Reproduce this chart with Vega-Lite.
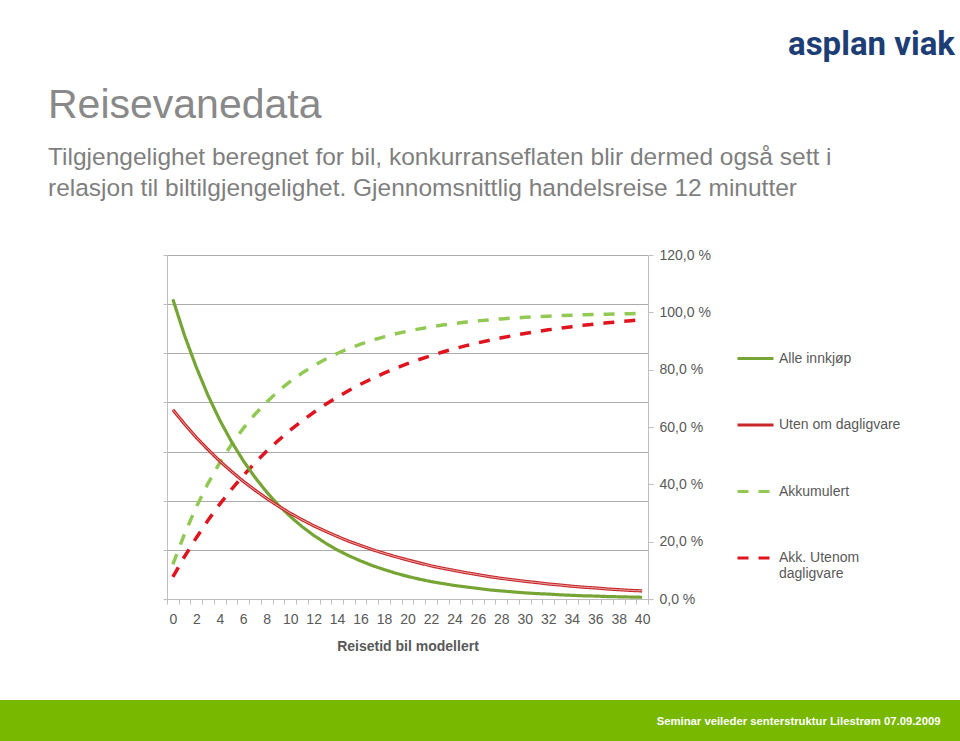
{
  "$schema": "https://vega.github.io/schema/vega-lite/v6.json",
  "width": 481,
  "height": 344,
  "autosize": {"type": "none"},
  "padding": {"left": 167, "top": 255, "right": 312, "bottom": 142},
  "background": "white",
  "title": {
    "text": "Reisevanedata",
    "subtitle": ["Tilgjengelighet beregnet for bil, konkurranseflaten blir dermed også sett i", "relasjon til biltilgjengelighet. Gjennomsnittlig handelsreise 12 minutter"],
    "anchor": "start",
    "frame": "group",
    "dx": -119,
    "dy": 173,
    "offset": 0,
    "font": "Liberation Sans",
    "fontSize": 41,
    "fontWeight": "normal",
    "color": "#898989",
    "subtitleFont": "Liberation Sans",
    "subtitleFontSize": 24.5,
    "subtitleColor": "#7f7f7f",
    "subtitleLineHeight": 31,
    "subtitlePadding": 19
  },
  "data": {"values": [
    {"t":0,"s":"Alle innkjøp","v":12.2},{"t":1,"s":"Alle innkjøp","v":10.72},{"t":2,"s":"Alle innkjøp","v":9.43},{"t":3,"s":"Alle innkjøp","v":8.28},{"t":4,"s":"Alle innkjøp","v":7.28},{"t":5,"s":"Alle innkjøp","v":6.40},{"t":6,"s":"Alle innkjøp","v":5.63},{"t":7,"s":"Alle innkjøp","v":4.95},{"t":8,"s":"Alle innkjøp","v":4.35},{"t":9,"s":"Alle innkjøp","v":3.82},{"t":10,"s":"Alle innkjøp","v":3.36},{"t":11,"s":"Alle innkjøp","v":2.95},{"t":12,"s":"Alle innkjøp","v":2.59},{"t":13,"s":"Alle innkjøp","v":2.28},{"t":14,"s":"Alle innkjøp","v":2.00},{"t":15,"s":"Alle innkjøp","v":1.76},{"t":16,"s":"Alle innkjøp","v":1.55},{"t":17,"s":"Alle innkjøp","v":1.36},{"t":18,"s":"Alle innkjøp","v":1.20},{"t":19,"s":"Alle innkjøp","v":1.05},{"t":20,"s":"Alle innkjøp","v":0.92},{"t":21,"s":"Alle innkjøp","v":0.81},{"t":22,"s":"Alle innkjøp","v":0.71},{"t":23,"s":"Alle innkjøp","v":0.63},{"t":24,"s":"Alle innkjøp","v":0.55},{"t":25,"s":"Alle innkjøp","v":0.49},{"t":26,"s":"Alle innkjøp","v":0.43},{"t":27,"s":"Alle innkjøp","v":0.37},{"t":28,"s":"Alle innkjøp","v":0.33},{"t":29,"s":"Alle innkjøp","v":0.29},{"t":30,"s":"Alle innkjøp","v":0.25},{"t":31,"s":"Alle innkjøp","v":0.22},{"t":32,"s":"Alle innkjøp","v":0.20},{"t":33,"s":"Alle innkjøp","v":0.17},{"t":34,"s":"Alle innkjøp","v":0.15},{"t":35,"s":"Alle innkjøp","v":0.13},{"t":36,"s":"Alle innkjøp","v":0.12},{"t":37,"s":"Alle innkjøp","v":0.10},{"t":38,"s":"Alle innkjøp","v":0.09},{"t":39,"s":"Alle innkjøp","v":0.08},{"t":40,"s":"Alle innkjøp","v":0.07},
    {"t":0,"s":"Uten om dagligvare","v":7.70},{"t":1,"s":"Uten om dagligvare","v":7.12},{"t":2,"s":"Uten om dagligvare","v":6.57},{"t":3,"s":"Uten om dagligvare","v":6.08},{"t":4,"s":"Uten om dagligvare","v":5.61},{"t":5,"s":"Uten om dagligvare","v":5.19},{"t":6,"s":"Uten om dagligvare","v":4.79},{"t":7,"s":"Uten om dagligvare","v":4.43},{"t":8,"s":"Uten om dagligvare","v":4.09},{"t":9,"s":"Uten om dagligvare","v":3.78},{"t":10,"s":"Uten om dagligvare","v":3.49},{"t":11,"s":"Uten om dagligvare","v":3.23},{"t":12,"s":"Uten om dagligvare","v":2.98},{"t":13,"s":"Uten om dagligvare","v":2.76},{"t":14,"s":"Uten om dagligvare","v":2.55},{"t":15,"s":"Uten om dagligvare","v":2.35},{"t":16,"s":"Uten om dagligvare","v":2.18},{"t":17,"s":"Uten om dagligvare","v":2.01},{"t":18,"s":"Uten om dagligvare","v":1.86},{"t":19,"s":"Uten om dagligvare","v":1.72},{"t":20,"s":"Uten om dagligvare","v":1.59},{"t":21,"s":"Uten om dagligvare","v":1.47},{"t":22,"s":"Uten om dagligvare","v":1.35},{"t":23,"s":"Uten om dagligvare","v":1.25},{"t":24,"s":"Uten om dagligvare","v":1.16},{"t":25,"s":"Uten om dagligvare","v":1.07},{"t":26,"s":"Uten om dagligvare","v":0.99},{"t":27,"s":"Uten om dagligvare","v":0.91},{"t":28,"s":"Uten om dagligvare","v":0.84},{"t":29,"s":"Uten om dagligvare","v":0.78},{"t":30,"s":"Uten om dagligvare","v":0.72},{"t":31,"s":"Uten om dagligvare","v":0.67},{"t":32,"s":"Uten om dagligvare","v":0.61},{"t":33,"s":"Uten om dagligvare","v":0.57},{"t":34,"s":"Uten om dagligvare","v":0.52},{"t":35,"s":"Uten om dagligvare","v":0.48},{"t":36,"s":"Uten om dagligvare","v":0.45},{"t":37,"s":"Uten om dagligvare","v":0.41},{"t":38,"s":"Uten om dagligvare","v":0.38},{"t":39,"s":"Uten om dagligvare","v":0.35},{"t":40,"s":"Uten om dagligvare","v":0.33},
    {"t":0,"s":"Akkumulert","v":12.11},{"t":1,"s":"Akkumulert","v":22.76},{"t":2,"s":"Akkumulert","v":32.12},{"t":3,"s":"Akkumulert","v":40.35},{"t":4,"s":"Akkumulert","v":47.58},{"t":5,"s":"Akkumulert","v":53.94},{"t":6,"s":"Akkumulert","v":59.52},{"t":7,"s":"Akkumulert","v":64.44},{"t":8,"s":"Akkumulert","v":68.75},{"t":9,"s":"Akkumulert","v":72.54},{"t":10,"s":"Akkumulert","v":75.87},{"t":11,"s":"Akkumulert","v":78.80},{"t":12,"s":"Akkumulert","v":81.38},{"t":13,"s":"Akkumulert","v":83.65},{"t":14,"s":"Akkumulert","v":85.64},{"t":15,"s":"Akkumulert","v":87.38},{"t":16,"s":"Akkumulert","v":88.92},{"t":17,"s":"Akkumulert","v":90.27},{"t":18,"s":"Akkumulert","v":91.46},{"t":19,"s":"Akkumulert","v":92.51},{"t":20,"s":"Akkumulert","v":93.42},{"t":21,"s":"Akkumulert","v":94.23},{"t":22,"s":"Akkumulert","v":94.94},{"t":23,"s":"Akkumulert","v":95.57},{"t":24,"s":"Akkumulert","v":96.11},{"t":25,"s":"Akkumulert","v":96.59},{"t":26,"s":"Akkumulert","v":97.02},{"t":27,"s":"Akkumulert","v":97.38},{"t":28,"s":"Akkumulert","v":97.71},{"t":29,"s":"Akkumulert","v":98.00},{"t":30,"s":"Akkumulert","v":98.26},{"t":31,"s":"Akkumulert","v":98.47},{"t":32,"s":"Akkumulert","v":98.67},{"t":33,"s":"Akkumulert","v":98.84},{"t":34,"s":"Akkumulert","v":98.99},{"t":35,"s":"Akkumulert","v":99.13},{"t":36,"s":"Akkumulert","v":99.24},{"t":37,"s":"Akkumulert","v":99.35},{"t":38,"s":"Akkumulert","v":99.44},{"t":39,"s":"Akkumulert","v":99.52},{"t":40,"s":"Akkumulert","v":99.59},
    {"t":0,"s":"Akk. Utenom dagligvare","v":7.70},{"t":1,"s":"Akk. Utenom dagligvare","v":14.82},{"t":2,"s":"Akk. Utenom dagligvare","v":21.39},{"t":3,"s":"Akk. Utenom dagligvare","v":27.47},{"t":4,"s":"Akk. Utenom dagligvare","v":33.08},{"t":5,"s":"Akk. Utenom dagligvare","v":38.27},{"t":6,"s":"Akk. Utenom dagligvare","v":43.06},{"t":7,"s":"Akk. Utenom dagligvare","v":47.49},{"t":8,"s":"Akk. Utenom dagligvare","v":51.58},{"t":9,"s":"Akk. Utenom dagligvare","v":55.36},{"t":10,"s":"Akk. Utenom dagligvare","v":58.86},{"t":11,"s":"Akk. Utenom dagligvare","v":62.09},{"t":12,"s":"Akk. Utenom dagligvare","v":65.07},{"t":13,"s":"Akk. Utenom dagligvare","v":67.83},{"t":14,"s":"Akk. Utenom dagligvare","v":70.38},{"t":15,"s":"Akk. Utenom dagligvare","v":72.73},{"t":16,"s":"Akk. Utenom dagligvare","v":74.91},{"t":17,"s":"Akk. Utenom dagligvare","v":76.92},{"t":18,"s":"Akk. Utenom dagligvare","v":78.77},{"t":19,"s":"Akk. Utenom dagligvare","v":80.49},{"t":20,"s":"Akk. Utenom dagligvare","v":82.08},{"t":21,"s":"Akk. Utenom dagligvare","v":83.54},{"t":22,"s":"Akk. Utenom dagligvare","v":84.90},{"t":23,"s":"Akk. Utenom dagligvare","v":86.15},{"t":24,"s":"Akk. Utenom dagligvare","v":87.30},{"t":25,"s":"Akk. Utenom dagligvare","v":88.37},{"t":26,"s":"Akk. Utenom dagligvare","v":89.36},{"t":27,"s":"Akk. Utenom dagligvare","v":90.27},{"t":28,"s":"Akk. Utenom dagligvare","v":91.12},{"t":29,"s":"Akk. Utenom dagligvare","v":91.89},{"t":30,"s":"Akk. Utenom dagligvare","v":92.61},{"t":31,"s":"Akk. Utenom dagligvare","v":93.28},{"t":32,"s":"Akk. Utenom dagligvare","v":93.89},{"t":33,"s":"Akk. Utenom dagligvare","v":94.46},{"t":34,"s":"Akk. Utenom dagligvare","v":94.99},{"t":35,"s":"Akk. Utenom dagligvare","v":95.47},{"t":36,"s":"Akk. Utenom dagligvare","v":95.92},{"t":37,"s":"Akk. Utenom dagligvare","v":96.33},{"t":38,"s":"Akk. Utenom dagligvare","v":96.72},{"t":39,"s":"Akk. Utenom dagligvare","v":97.07},{"t":40,"s":"Akk. Utenom dagligvare","v":97.40}
  ]},
  "encoding": {
    "x": {
      "field": "t",
      "type": "ordinal",
      "bandPosition": 0.5,
      "scale": {"type": "band", "paddingInner": 0, "paddingOuter": 0},
      "axis": {
        "title": "Reisetid bil modellert",
        "tickBand": "extent",
        "labelAngle": 0,
        "labelOverlap": false,
        "labelExpr": "toNumber(datum.value) % 2 === 0 ? datum.label : ''",
        "labelPadding": 8,
        "titlePadding": 13,
        "titleFontWeight": "bold",
        "grid": false
      }
    }
  },
  "layer": [
    {
      "transform": [{"filter": {"field": "s", "oneOf": ["Akkumulert", "Akk. Utenom dagligvare"]}}],
      "mark": {"type": "line", "strokeWidth": 3.5, "strokeCap": "butt"},
      "encoding": {
        "y": {
          "field": "v", "type": "quantitative",
          "scale": {"domain": [0, 120], "nice": false},
          "axis": {
            "orient": "right",
            "values": [0, 20, 40, 60, 80, 100, 120],
            "grid": false,
            "title": "Seminar veileder senterstruktur Lilestrøm 07.09.2009",
            "titleAngle": 0,
            "titleX": 292,
            "titleY": 466,
            "titleAlign": "right",
            "titleBaseline": "middle",
            "titleFont": "Liberation Sans",
            "titleFontSize": 11.3,
            "titleFontWeight": "bold",
            "titleColor": "#ffffff",
            "labelExpr": "replace(format(datum.value, '.1f'), '.', ',') + ' %'",
            "labelPadding": 6,
            "zindex": 2
          }
        },
        "color": {
          "field": "s", "type": "nominal",
          "scale": {"domain": ["Alle innkjøp", "Uten om dagligvare", "Akkumulert", "Akk. Utenom dagligvare"], "range": ["#77a535", "#c8282a", "#92c955", "#e0141e"]},
          "legend": {
            "labelExpr": "datum.label == 'Akk. Utenom dagligvare' ? ['Akk. Utenom', 'dagligvare'] : datum.label"
          }
        },
        "strokeDash": {
          "field": "s", "type": "nominal",
          "scale": {"domain": ["Alle innkjøp", "Uten om dagligvare", "Akkumulert", "Akk. Utenom dagligvare"], "range": [[1, 0], [1, 0], [11, 10], [11, 10]]},
          "legend": {
            "labelExpr": "datum.label == 'Akk. Utenom dagligvare' ? ['Akk. Utenom', 'dagligvare'] : datum.label"
          }
        }
      }
    },
    {
      "layer": [
        {
          "transform": [{"filter": {"field": "s", "oneOf": ["Alle innkjøp", "Uten om dagligvare"]}}],
          "mark": {"type": "line", "strokeWidth": 3.2, "strokeCap": "butt"},
          "encoding": {
            "y": {
              "field": "v", "type": "quantitative",
              "scale": {"domain": [0, 14], "nice": false},
              "axis": {
                "orient": "left",
                "values": [0, 2, 4, 6, 8, 10, 12, 14],
                "labels": false,
                "grid": true,
                "tickSize": 4,
                "title": "asplan viak",
                "titleAngle": 0,
                "titleX": 704,
                "titleY": -201,
                "titleAlign": "center",
                "titleBaseline": "alphabetic",
                "titleFont": "Roboto",
                "titleFontSize": 33,
                "titleFontWeight": "bold",
                "titleColor": "#1d3e75"
              }
            },
            "color": {
              "field": "s", "type": "nominal",
              "scale": {"domain": ["Alle innkjøp", "Uten om dagligvare", "Akkumulert", "Akk. Utenom dagligvare"], "range": ["#77a535", "#c8282a", "#92c955", "#e0141e"]}
            },
            "strokeDash": {
              "field": "s", "type": "nominal",
              "scale": {"domain": ["Alle innkjøp", "Uten om dagligvare", "Akkumulert", "Akk. Utenom dagligvare"], "range": [[1, 0], [1, 0], [11, 10], [11, 10]]}
            }
          }
        },
        {
          "transform": [{"filter": {"field": "s", "equal": "Uten om dagligvare"}}],
          "mark": {"type": "line", "strokeWidth": 1, "stroke": "#eba3a3"},
          "encoding": {
            "y": {"field": "v", "type": "quantitative"}
          }
        },
        {
          "transform": [{"filter": {"field": "s", "equal": "Alle innkjøp"}}],
          "mark": {"type": "point", "filled": true, "size": 0, "opacity": 1, "strokeWidth": 0},
          "encoding": {
            "y": {"field": "v", "type": "quantitative"},
            "fill": {
              "field": "v", "type": "quantitative",
              "scale": {"range": ["#78b800", "#78b800"]},
              "legend": {
                "orient": "none",
                "legendX": -167,
                "legendY": 445,
                "direction": "horizontal",
                "gradientLength": 960,
                "gradientThickness": 41,
                "gradientStrokeWidth": 0,
                "title": null,
                "labelExpr": "''",
                "padding": 0,
                "zindex": 0
              }
            }
          }
        }
      ]
    }
  ],
  "resolve": {"scale": {"y": "independent"}},
  "config": {
    "view": {"stroke": null},
    "font": "Liberation Sans",
    "axis": {
      "labelFont": "Liberation Sans",
      "labelFontSize": 14,
      "labelColor": "#595959",
      "titleFont": "Liberation Sans",
      "titleFontSize": 14,
      "titleColor": "#595959",
      "domainColor": "#bfbfbf",
      "tickColor": "#bfbfbf",
      "gridColor": "#ababab",
      "tickSize": 5
    },
    "legend": {
      "orient": "none",
      "legendX": 569,
      "legendY": 84,
      "symbolType": "stroke",
      "symbolSize": 1296,
      "symbolStrokeWidth": 3,
      "labelFont": "Liberation Sans",
      "labelFontSize": 14,
      "labelColor": "#595959",
      "labelOffset": 4,
      "rowPadding": 39.5,
      "padding": 0,
      "title": null,
      "labelLimit": 200
    }
  }
}
